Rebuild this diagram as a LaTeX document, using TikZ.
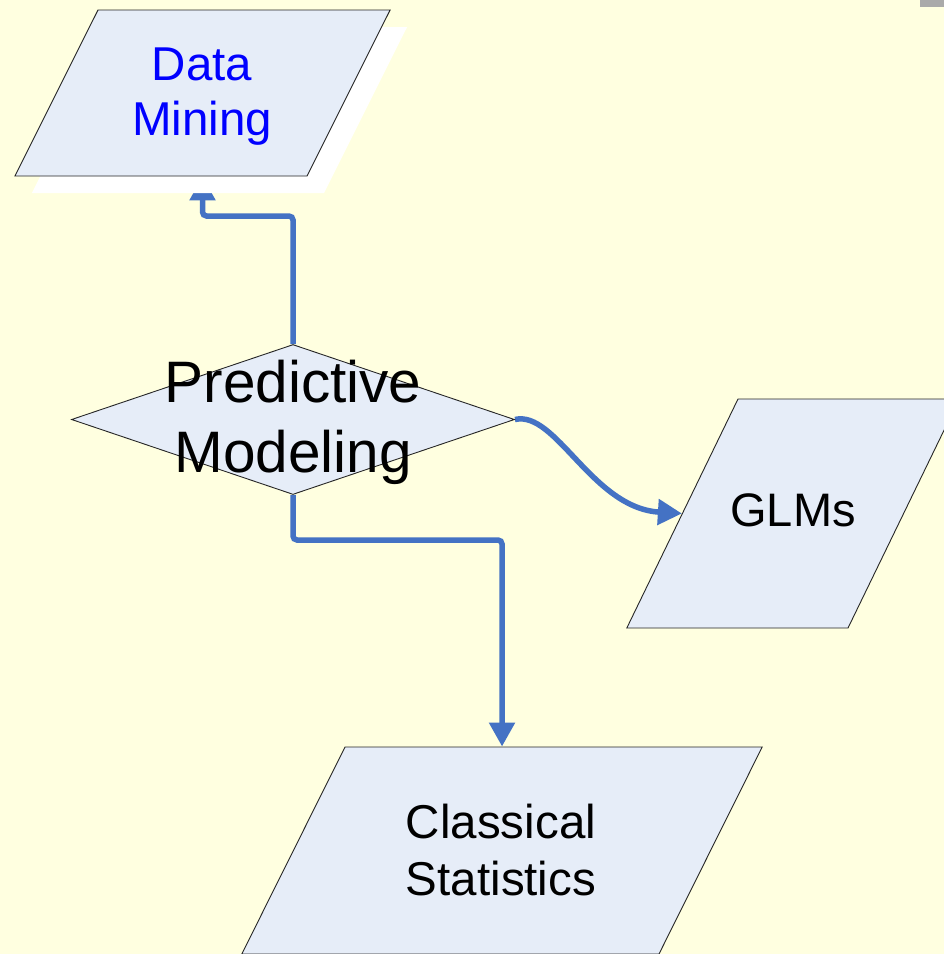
\documentclass[tikz,border=0pt]{standalone}
\usepackage{fontspec}
\setmainfont{Liberation Sans}
\usetikzlibrary{shapes.geometric,arrows.meta,shadows}
\definecolor{slidebg}{RGB}{255,255,224}
\definecolor{boxfill}{RGB}{230,237,248}
\definecolor{flowblue}{RGB}{68,114,196}
\definecolor{cornergray}{RGB}{170,170,170}
\pgfdeclarelayer{background}
\pgfsetlayers{background,main}
\tikzset{
  iobox/.style 2 args={trapezium, trapezium left angle=#1, trapezium right angle=180-#1,
    text width=#2, text depth=0pt, draw=black!85, line width=0.9pt, fill=boxfill, inner sep=0pt},
  decision/.style={diamond, draw=black!85, line width=0.9pt, fill=boxfill, inner sep=0pt,
    minimum width=443pt, minimum height=150pt},
  flow/.style={draw=flowblue, line width=5.5pt, rounded corners=4pt,
    -{Triangle[width=25pt,length=24pt]}},
  bigtext/.style={align=center, inner sep=0pt}
}

\begin{document}
\begin{tikzpicture}[x=1pt, y=-1pt]
\useasboundingbox (0,0) rectangle (944,954);
% shapes
\node[iobox={63.4}{209pt}, text height=166pt,
  drop shadow={shadow xshift=17pt, shadow yshift=-17pt, fill=white, opacity=1}] (dm) at (202.5,93) {};
\node[decision] (pm) at (293,419.5) {};
\node[iobox={64.1}{110pt}, text height=229pt] (glm) at (793,513.5) {};
\node[iobox={63.5}{314pt}, text height=207pt] (cs) at (502,850.5) {};
% labels
\node[bigtext, text=blue, font=\fontsize{47.5}{55}\selectfont] (dm-text) at (202,96.5) {Data\\Mining};
\node[bigtext, font=\fontsize{58.5}{70}\selectfont] (pm-text) at (293,422) {Predictive\\Modeling};
\node[bigtext, font=\fontsize{47}{59}\selectfont] (glm-text) at (793,510.5) {GLMs};
\node[bigtext, font=\fontsize{47.5}{57}\selectfont] (cs-text) at (501,850) {Classical\\Statistics};
% background and connectors
\begin{pgfonlayer}{background}
\fill[slidebg] (0,0) rectangle (944,954);
\fill[cornergray] (920,0) rectangle (944,7);
\draw[flow] (pm.north) -- (pm.north |- 0,216) -| (dm.south);
\draw[flow] (pm.south) -- (pm.south |- 0,540) -| (cs.north);
\draw[flow, rounded corners=0pt] (pm.east) .. controls (556,410) and (592,508) .. (glm.west);
\end{pgfonlayer}
\end{tikzpicture}
\end{document}
